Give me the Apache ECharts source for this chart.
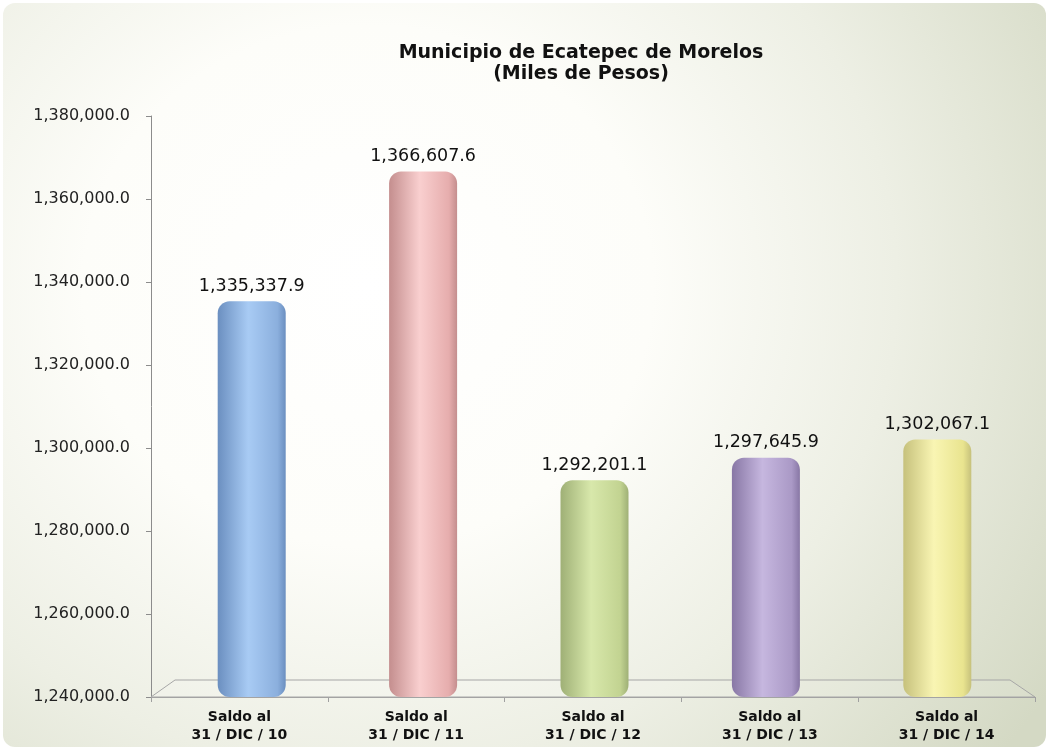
<!DOCTYPE html>
<html>
<head>
<meta charset="utf-8">
<script src="https://cdn.jsdelivr.net/npm/echarts@6/dist/echarts.min.js"></script>
<style>
  html, body { margin: 0; padding: 0; background: #fff; }
  #bg {
    position: absolute; left: 3px; top: 3px; width: 1043px; height: 744px;
    border-radius: 12px;
    background: radial-gradient(ellipse 78% 100% at 35% 38%, #ffffff 0%, #fdfdf9 35%, #edefe4 65%, #d4d9c4 100%);
  }
  #chart { position: absolute; left: 0; top: 0; width: 1049px; height: 750px; }
</style>
</head>
<body>
<div id="bg"></div>
<div id="chart"></div>
<script>
const categories = ['Saldo al\n31 / DIC / 10', 'Saldo al\n31 / DIC / 11', 'Saldo al\n31 / DIC / 12', 'Saldo al\n31 / DIC / 13', 'Saldo al\n31 / DIC / 14'];
const values = [1335337.9, 1366607.6, 1292201.1, 1297645.9, 1302067.1];
// dark edge, highlight, right side
const barShades = [
  ['#6b8fc0', '#a8cbf4', '#8bafdd'],
  ['#c48e8e', '#f9cfcf', '#e6adad'],
  ['#9fb076', '#d8e8ab', '#c2d391'],
  ['#8877a5', '#c6b7df', '#aa99c6'],
  ['#c6c17c', '#f9f5b3', '#e9e48f']
];

const fmt = v => {
  const s = v.toFixed(1).split('.');
  return s[0].replace(/\B(?=(\d{3})+(?!\d))/g, ',') + '.' + s[1];
};

const chart = echarts.init(document.getElementById('chart'));
const font = "'DejaVu Sans', Verdana, sans-serif";

chart.setOption({
  animation: false,
  backgroundColor: 'transparent',
  title: {
    text: 'Municipio de Ecatepec de Morelos\n(Miles de Pesos)',
    left: 576, top: 38, textAlign: 'center',
    textStyle: { fontFamily: font, fontWeight: 'bold', fontSize: 19, lineHeight: 21, color: '#111' }
  },
  grid: [
    { left: 151, right: 14, top: 116, bottom: 53 },
    // bars sit a little deeper in the 3D box, so their band is narrower
    { left: 166, right: 26, top: 116, bottom: 53 }
  ],
  xAxis: [{
    type: 'category', gridIndex: 0, data: categories,
    axisLine: { lineStyle: { color: '#a0a0a0' } },
    axisTick: { show: true, length: 5, lineStyle: { color: '#a0a0a0' } },
    axisLabel: { margin: 11, fontFamily: font, fontWeight: 'bold', fontSize: 14, lineHeight: 18, color: '#111' }
  }, {
    type: 'category', gridIndex: 1, data: categories, show: false
  }],
  yAxis: [{
    type: 'value', gridIndex: 0, min: 1240000, max: 1380000, interval: 20000,
    axisLine: { show: true, lineStyle: { color: '#8c8c8c' } },
    axisTick: { show: true, length: 5, lineStyle: { color: '#8c8c8c' } },
    splitLine: { show: false },
    axisLabel: { margin: 21, fontFamily: font, fontSize: 16, color: '#222', formatter: v => fmt(v) }
  }, {
    type: 'value', gridIndex: 1, min: 1240000, max: 1380000, interval: 20000, show: false,
    splitLine: { show: false }
  }],
  graphic: [{
    type: 'polygon', z: 1, silent: true,
    shape: { points: [[151, 697], [1035, 697], [1010, 680], [175, 680]] },
    style: { fill: 'rgba(255,255,255,0.12)', stroke: '#a6a6a6', lineWidth: 1 }
  }],
  series: [{
    type: 'bar', xAxisIndex: 1, yAxisIndex: 1, z: 3,
    barWidth: 68,
    data: values.map((v, i) => ({
      value: v,
      itemStyle: {
        borderRadius: 12,
        color: new echarts.graphic.LinearGradient(0, 0, 1, 0, [
          { offset: 0, color: barShades[i][0] },
          { offset: 0.45, color: barShades[i][1] },
          { offset: 0.88, color: barShades[i][2] },
          { offset: 1, color: barShades[i][0] }
        ])
      }
    })),
    label: {
      show: true, position: 'top', distance: 6,
      fontFamily: font, fontSize: 17.5, color: '#111',
      formatter: p => fmt(p.value)
    }
  }]
});
</script>
</body>
</html>
